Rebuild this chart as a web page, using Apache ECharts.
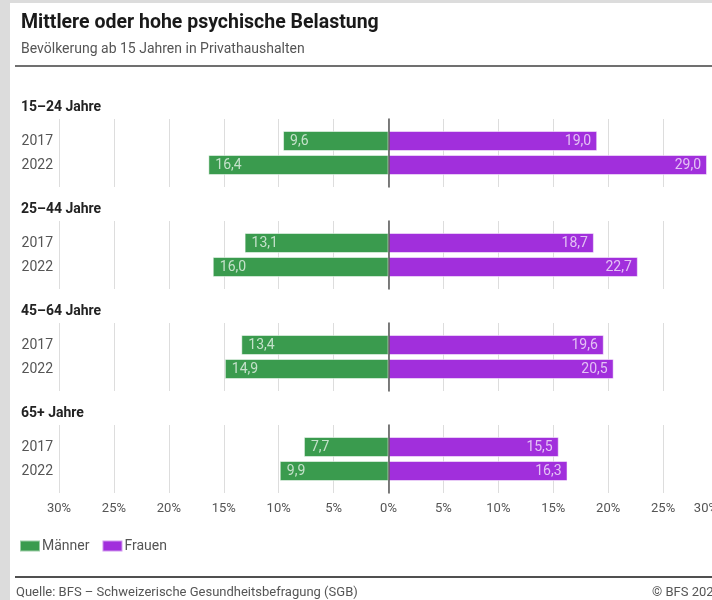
<!DOCTYPE html>
<html>
<head>
<meta charset="utf-8">
<script src="https://cdn.jsdelivr.net/npm/echarts@6/dist/echarts.min.js"></script>
<style>
  html, body { margin: 0; padding: 0; background: #ffffff; }
  #chart { width: 712px; height: 600px; }
</style>
</head>
<body>
<div id="chart"></div>
<script>
// Anteil mit mittlerer oder hoher psychischer Belastung, in %
const groups = ['15–24 Jahre', '25–44 Jahre', '45–64 Jahre', '65+ Jahre'];
const years = ['2017', '2022'];
const maenner = [
  [9.6, 16.4],
  [13.1, 16.0],
  [13.4, 14.9],
  [7.7, 9.9]
];
const frauen = [
  [19.0, 29.0],
  [18.7, 22.7],
  [19.6, 20.5],
  [15.5, 16.3]
];
const tickValues = [-30, -25, -20, -15, -10, -5, 0, 5, 10, 15, 20, 25, 30];

const GREEN = '#3a9b4e';
const PURPLE = '#a12fdc';
const FONT = 'Roboto, "Noto Sans", sans-serif';
const TEXT = '#555555';

const chart = echarts.init(document.getElementById('chart'), null, { renderer: 'canvas' });

const fmtNum = v => Math.abs(v).toFixed(1).replace('.', ',');
const tickMin = tickValues[0];
const tickMax = tickValues[tickValues.length - 1];
const tickStep = tickValues[1] - tickValues[0];

const grids = [], xAxes = [], yAxes = [], series = [], titles = [];

groups.forEach((g, i) => {
  const bgTop = 119 + 102 * i;
  const last = i === groups.length - 1;

  // background panel: grid lines + zero line
  grids.push({ left: 59, width: 659, top: bgTop, height: 68, containLabel: false, outerBoundsMode: 'none' });
  xAxes.push({
    gridIndex: grids.length - 1, type: 'value', min: tickMin, max: tickMax, interval: tickStep,
    axisLine: { show: false }, axisTick: { show: false },
    splitLine: { show: true, lineStyle: { color: '#dddddd', width: 1 } },
    axisLabel: {
      show: last, margin: 9, color: TEXT, fontSize: 13, fontFamily: FONT,
      alignMaxLabel: 'right',
      formatter: v => Math.abs(v) + '%'
    }
  });
  yAxes.push({
    gridIndex: grids.length - 1, type: 'category', data: years,
    axisLabel: { show: false }, axisTick: { show: false },
    axisLine: { show: true, onZero: true, lineStyle: { color: '#555555', width: 1.5 } },
    z: 10
  });

  // data panel: the two bars
  grids.push({ left: 59, width: 659, top: bgTop + 10, height: 48, containLabel: false, outerBoundsMode: 'none' });
  const gi = grids.length - 1;
  xAxes.push({
    gridIndex: gi, type: 'value', min: tickMin, max: tickMax, interval: tickStep,
    axisLine: { show: false }, axisTick: { show: false },
    splitLine: { show: false }, axisLabel: { show: false }
  });
  yAxes.push({
    gridIndex: gi, type: 'category', data: years, inverse: true,
    axisLine: { show: false }, axisTick: { show: false },
    axisLabel: { margin: 6, color: TEXT, fontSize: 14, fontFamily: FONT }
  });

  const barCommon = {
    type: 'bar', xAxisIndex: gi, yAxisIndex: gi, stack: 'g' + i,
    barWidth: 20, z: 3
  };
  series.push(Object.assign({}, barCommon, {
    name: 'Männer',
    data: maenner[i].map(v => -v),
    itemStyle: { color: GREEN, borderColor: 'rgba(255,255,255,0.5)', borderWidth: 1 },
    label: {
      show: true, position: 'insideLeft', distance: 7,
      color: 'rgba(255,255,255,0.7)', fontSize: 14, fontFamily: FONT,
      formatter: p => fmtNum(p.value)
    }
  }));
  series.push(Object.assign({}, barCommon, {
    name: 'Frauen',
    data: frauen[i],
    itemStyle: { color: PURPLE, borderColor: 'rgba(255,255,255,0.5)', borderWidth: 1 },
    label: {
      show: true, position: 'insideRight', distance: 6,
      color: 'rgba(255,255,255,0.7)', fontSize: 14, fontFamily: FONT,
      formatter: p => fmtNum(p.value)
    }
  }));

  titles.push({
    text: g, left: 16, top: bgTop - 24,
    textStyle: { fontSize: 14, fontWeight: 'bold', color: '#222222', fontFamily: FONT }
  });
});

titles.unshift(
  {
    text: 'Mittlere oder hohe psychische Belastung', left: 16, top: 8,
    textStyle: { fontSize: 19.5, fontWeight: 'bold', color: '#1a1a1a', fontFamily: FONT }
  },
  {
    text: 'Bevölkerung ab 15 Jahren in Privathaushalten', left: 16, top: 37,
    textStyle: { fontSize: 14, fontWeight: 'normal', color: TEXT, fontFamily: FONT }
  }
);

chart.setOption({
  backgroundColor: '#ffffff',
  animation: false,
  title: titles,
  legend: {
    data: ['Männer', 'Frauen'], left: 14, top: 534,
    itemWidth: 20, itemHeight: 11, itemGap: 12,
    icon: 'rect',
    textStyle: { color: TEXT, fontSize: 14, fontFamily: FONT, padding: [0, 0, 0, -3] }
  },
  grid: grids,
  xAxis: xAxes,
  yAxis: yAxes,
  series: series,
  graphic: [
    // page frame
    { type: 'rect', shape: { x: 0, y: 0, width: 10, height: 600 }, style: { fill: '#dcdcdc' }, silent: true, z: 100 },
    { type: 'rect', shape: { x: 0, y: 0, width: 712, height: 3 }, style: { fill: '#dcdcdc' }, silent: true, z: 100 },
    // rules under the header and above the footer
    { type: 'rect', shape: { x: 15, y: 65, width: 697, height: 2 }, style: { fill: '#707070' }, silent: true },
    { type: 'rect', shape: { x: 15, y: 576, width: 697, height: 2 }, style: { fill: '#505050' }, silent: true },
    {
      type: 'text', left: 16, top: 586, silent: true,
      style: { text: 'Quelle: BFS – Schweizerische Gesundheitsbefragung (SGB)', fill: TEXT, fontSize: 13, fontFamily: FONT }
    },
    {
      type: 'text', x: 652, y: 586, silent: true,
      style: { text: '© BFS 2024', fill: TEXT, fontSize: 13, fontFamily: FONT }
    }
  ]
});
</script>
</body>
</html>
